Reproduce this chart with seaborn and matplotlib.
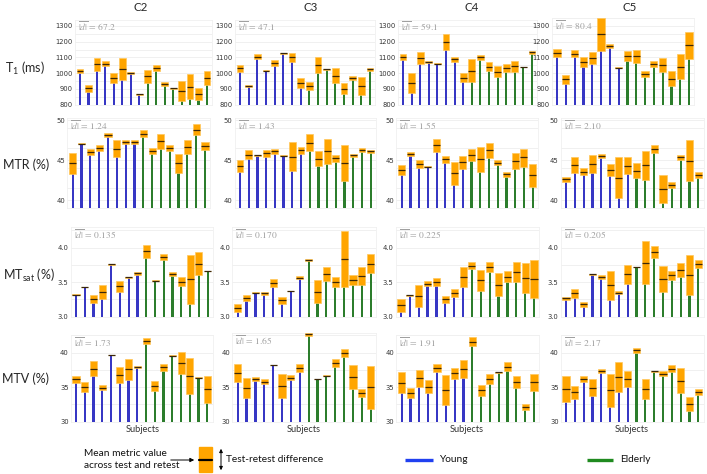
import numpy as np
import pandas as pd
import matplotlib
matplotlib.use("Agg")
import matplotlib.pyplot as plt
import seaborn as sns
from matplotlib.patches import Rectangle

# Cervical levels (columns) and metrics (rows)
levels = ["C2", "C3", "C4", "C5"]
row_labels = ["T$_1$ (ms)", "MTR (%)", "MT$_{\\mathrm{sat}}$ (%)", "MTV (%)"]
group = ["Young"] * 8 + ["Elderly"] * 8

# mean across test/retest and test-retest difference, per level C2..C5
t1_mean = [
    [1012, 902, 1056, 1061, 970, 1025, 1002, 864, 979, 1033, 931, 903, 886, 913, 868, 968],
    [1030, 919, 1104, 1016, 1064, 1126, 1101, 937, 918, 1053, 1023, 984, 899, 967, 918, 1023],
    [1103, 936, 1097, 1069, 1061, 1195, 1087, 970, 1016, 1100, 1042, 1010, 1033, 1045, 1039, 1132],
    [1127, 961, 1123, 1073, 1094, 1246, 1175, 1034, 1111, 1106, 993, 1057, 1050, 965, 1041, 1177],
]
t1_diff = [
    [25, 40, 83, 32, 64, 139, 13, 12, 82, 36, 28, 9, 126, 162, 80, 90],
    [42, 9, 31, 6, 38, 5, 58, 58, 53, 102, 8, 92, 70, 28, 119, 16],
    [42, 126, 75, 14, 12, 102, 31, 58, 142, 27, 56, 69, 52, 70, 6, 20],
    [53, 57, 47, 65, 78, 210, 27, 8, 63, 82, 41, 37, 92, 98, 157, 171],
]
mtr_mean = [
    [44.65, 47.08, 46.0, 46.55, 48.15, 46.45, 47.3, 47.3, 48.33, 46.12, 47.4, 46.53, 44.6, 46.67, 48.8, 46.78],
    [44.3, 45.7, 45.63, 45.88, 46.1, 45.58, 45.45, 46.25, 47.2, 45.2, 46.12, 45.25, 44.65, 45.6, 46.25, 46.1],
    [43.8, 45.78, 44.55, 44.2, 46.87, 45.1, 43.37, 44.75, 45.7, 45.15, 46.25, 44.72, 43.27, 44.9, 45.35, 43.12],
    [42.65, 44.4, 43.58, 44.55, 45.58, 43.82, 42.82, 44.33, 43.68, 44.38, 46.42, 41.38, 41.9, 45.4, 44.96, 43.17],
]
mtr_diff = [
    [2.6, 0.1, 0.75, 0.7, 0.5, 2.1, 0.4, 0.4, 0.85, 0.75, 1.9, 0.85, 2.45, 1.85, 1.35, 0.9],
    [1.4, 1.15, 0.08, 0.9, 0.6, 0.06, 3.65, 0.85, 2.1, 1.9, 3.1, 0.95, 4.5, 0.3, 0.5, 0.4],
    [1.2, 0.55, 0.9, 0.06, 1.65, 0.8, 2.9, 1.7, 1.55, 3.1, 1.85, 0.6, 0.6, 2.05, 2.25, 2.8],
    [0.6, 2.05, 0.8, 2.3, 0.5, 1.55, 5.15, 2.15, 1.85, 3.65, 1.05, 3.55, 0.7, 0.6, 5.2, 0.8],
]
mtsat_mean = [
    [3.32, 3.43, 3.26, 3.355, 3.76, 3.44, 3.57, 3.63, 3.945, 3.52, 3.865, 3.625, 3.51, 3.545, 3.77, 3.66],
    [3.13, 3.275, 3.35, 3.34, 3.485, 3.235, 3.37, 3.565, 3.82, 3.365, 3.62, 3.5, 3.835, 3.535, 3.59, 3.77],
    [3.165, 3.31, 3.305, 3.48, 3.505, 3.25, 3.34, 3.58, 3.74, 3.525, 3.72, 3.465, 3.58, 3.655, 3.56, 3.545],
    [3.265, 3.34, 3.18, 3.615, 3.57, 3.455, 3.35, 3.615, 3.72, 3.785, 3.935, 3.545, 3.6, 3.675, 3.605, 3.76],
]
mtsat_diff = [
    [0.005, 0.008, 0.11, 0.21, 0.008, 0.16, 0.01, 0.05, 0.18, 0.01, 0.08, 0.06, 0.13, 0.71, 0.34, 0.006],
    [0.12, 0.09, 0.006, 0.04, 0.12, 0.11, 0.008, 0.05, 0.02, 0.33, 0.2, 0.14, 0.81, 0.15, 0.26, 0.28],
    [0.19, 0.02, 0.32, 0.07, 0.11, 0.09, 0.12, 0.29, 0.1, 0.31, 0.14, 0.33, 0.16, 0.29, 0.44, 0.55],
    [0.04, 0.13, 0.07, 0.008, 0.06, 0.42, 0.035, 0.27, 0.008, 0.62, 0.17, 0.37, 0.135, 0.21, 0.57, 0.12],
]
mtv_mean = [
    [36.16, 35.02, 37.7, 34.95, 39.66, 36.8, 37.57, 37.9, 41.68, 35.17, 37.88, 39.57, 38.45, 36.62, 36.38, 34.68],
    [37.08, 34.95, 36.23, 35.77, 38.2, 35.18, 36.4, 37.77, 42.65, 36.18, 36.67, 38.47, 39.97, 36.45, 34.17, 34.97],
    [35.62, 34.2, 36.28, 35.1, 37.76, 34.6, 37.03, 37.64, 41.6, 34.55, 36.2, 37.14, 37.99, 35.74, 32.15, 35.7],
    [34.8, 34.27, 36.13, 34.95, 37.33, 34.57, 36.5, 36.2, 40.35, 34.7, 37.29, 36.98, 37.69, 35.93, 32.57, 34.28],
]
mtv_diff = [
    [1.0, 1.35, 2.2, 0.7, 0.1, 2.3, 3.05, 0.35, 0.95, 1.45, 0.95, 0.08, 3.2, 5.3, 0.08, 3.85],
    [2.55, 2.9, 0.6, 0.72, 0.08, 3.35, 0.72, 1.05, 0.45, 0.08, 0.08, 1.2, 1.12, 3.4, 1.2, 6.3],
    [3.05, 1.4, 2.45, 1.8, 1.25, 4.4, 1.65, 2.6, 1.25, 1.65, 1.45, 0.08, 1.4, 1.85, 0.9, 2.5],
    [3.75, 1.9, 0.85, 2.5, 0.55, 4.75, 4.4, 2.4, 0.7, 2.95, 0.08, 0.62, 1.1, 3.65, 2.0, 0.95],
]
# mean absolute test-retest difference printed in each panel
t1_dbar = ["67.2", "47.1", "59.1", "80.4"]
mtr_dbar = ["1.24", "1.43", "1.55", "2.10"]
mtsat_dbar = ["0.135", "0.170", "0.225", "0.205"]
mtv_dbar = ["1.73", "1.65", "1.91", "2.17"]

means = [t1_mean, mtr_mean, mtsat_mean, mtv_mean]
diffs = [t1_diff, mtr_diff, mtsat_diff, mtv_diff]
dbars = [t1_dbar, mtr_dbar, mtsat_dbar, mtv_dbar]

blue, green = "#1f1fdc", "#1f8a1f"
orange, orange_edge, dark = "#ffa500", "#ffc75c", "#3a2608"
palette = {"Young": blue, "Elderly": green}

sns.set_theme(style="white")
plt.rcParams["mathtext.fontset"] = "custom"
plt.rcParams["mathtext.rm"] = "Lato"
plt.rcParams["mathtext.it"] = "Lato:italic"

W, H = 707, 474
fig = plt.figure(figsize=(W / 100, H / 100), dpi=100)

# per-row layout in pixels
row_bottom_px = [104.5, 208.3, 316.7, 421.7]
row_scale = [0.157, 8.0, 69.0, 6.9]
row_ymin = [800, 39, 3.0, 30]
row_ymax = [1340, 50.25, 4.3, 42.6]
row_ticks = [[800, 900, 1000, 1100, 1200, 1300], [40, 45, 50], [3.0, 3.5, 4.0], [30, 35, 40]]
row_step = [50, 2.5, 0.25, 2.5]
row_fmt = ["{:.0f}", "{:.0f}", "{:.1f}", "{:.0f}"]
bar_span = [
    [(80, 207), (240, 370), (403, 532), (557, 689)],
    [(72.7, 205), (240, 370.7), (401.7, 532.7), (566, 698.3)],
    [(76, 207.7), (237.7, 370.7), (401, 534), (566, 698.3)],
    [(76, 207.3), (237.7, 370.7), (401.7, 534), (566, 698.3)],
]

for r in range(4):
    for c in range(4):
        m = np.array(means[r][c], dtype=float)
        d = np.array(diffs[r][c], dtype=float)
        lo, hi = m - d / 2, m + d / 2
        x0, x1 = bar_span[r][c]
        s = (x1 - x0) / 15
        top = max(row_ymax[r], hi.max())
        h_px = (top - row_ymin[r]) * row_scale[r]
        ax = fig.add_axes([(x0 - 0.6 * s) / W, (H - row_bottom_px[r]) / H,
                           16.2 * s / W, h_px / H])
        df = pd.DataFrame({"subject": np.arange(16), "low": lo, "group": group})
        sns.barplot(data=df, x="subject", y="low", hue="group", palette=palette,
                    dodge=False, width=0.25, linewidth=0, errorbar=None,
                    legend=False, ax=ax, zorder=2)
        xs = np.arange(16)
        ax.bar(xs, d, bottom=lo, width=0.8, color=orange, edgecolor=orange_edge,
               linewidth=0.5, zorder=3)
        ax.hlines(m, xs - 0.4, xs + 0.4, color=dark, lw=0.9, zorder=4)
        ax.set_xlim(-0.6, 15.6)
        ax.set_ylim(row_ymin[r], top)
        ax.set_yticks(row_ticks[r])
        ax.set_yticklabels([row_fmt[r].format(t) for t in row_ticks[r]])
        ax.set_yticks(np.arange(row_ymin[r], top, row_step[r]), minor=True)
        ax.set_xticks([])
        ax.set_xlabel("")
        ax.set_ylabel("")
        ax.grid(True, axis="y", which="both", color="#eeeeee", lw=0.6, zorder=0)
        ax.tick_params(axis="y", which="both", length=0, pad=1.5,
                       labelsize=4.9, labelcolor="#333333")
        for sp in ax.spines.values():
            sp.set_color("#f0f0f0")
            sp.set_linewidth(0.6)
        ax.text(0.02, 0.92, "$\\overline{|d|}$ = " + dbars[r][c],
                transform=ax.transAxes, ha="left", va="center", fontsize=6.8,
                color="#a0a0a0", family="STIXGeneral", math_fontfamily="stix")

# overlay in pixel coordinates for titles, row labels and the key
ov = fig.add_axes([0, 0, 1, 1], zorder=-1)
ov.set_xlim(0, W)
ov.set_ylim(H, 0)
ov.axis("off")
ov.patch.set_alpha(0)

for x, lab in zip([141, 311, 472, 630], levels):
    ov.text(x, 7, lab, ha="center", va="center", fontsize=8.3, family="Lato")
for (x, y), lab in zip([(25, 68), (26, 165), (29, 275), (26, 379)], row_labels):
    ov.text(x, y, lab, ha="center", va="center", fontsize=9, family="Lato")
for x in [142.5, 303.5, 467, 632]:
    ov.text(x, 429, "Subjects", ha="center", va="center", fontsize=6.7,
            family="Lato", color="#333333")

kw = dict(fontsize=7.3, family="Lato", va="center", color="#111111")
ov.text(84, 453, "Mean metric value", ha="left", **kw)
ov.text(84, 466, "across test and retest", ha="left", **kw)
ov.annotate("", xy=(197, 460), xytext=(168, 460),
            arrowprops=dict(arrowstyle="-|>", color="black", lw=0.7, mutation_scale=6))
ov.add_patch(Rectangle((199, 447), 13, 25, color=orange))
ov.plot([199, 212], [460, 460], color="black", lw=1.6)
ov.annotate("", xy=(221, 446), xytext=(221, 473),
            arrowprops=dict(arrowstyle="<|-|>", color="black", lw=0.7, mutation_scale=5))
ov.text(226, 460, "Test-retest difference", ha="left", **kw)
ov.plot([405, 433], [460, 460], color="#2040f0", lw=2.4, solid_capstyle="butt")
ov.text(439, 460, "Young", ha="left", **kw)
ov.plot([587, 613], [460, 460], color=green, lw=2.4, solid_capstyle="butt")
ov.text(620, 460, "Elderly", ha="left", **kw)

fig.savefig("out.png", dpi=100)
